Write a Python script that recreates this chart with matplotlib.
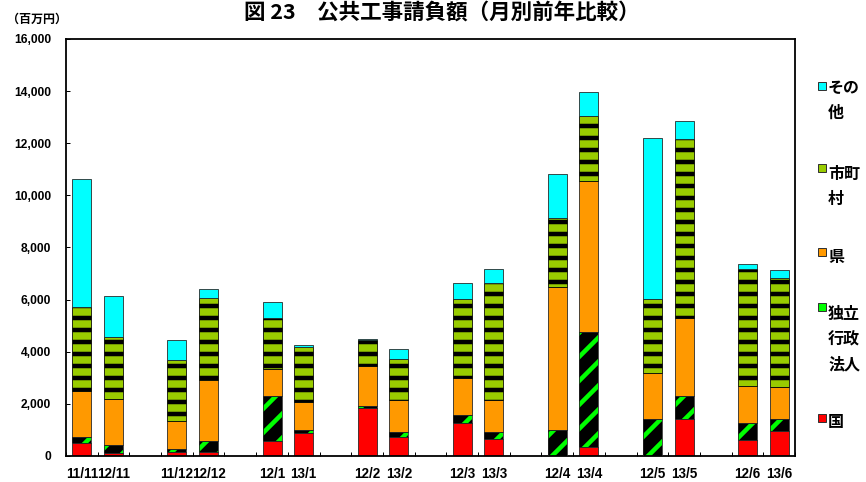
import numpy as np
import matplotlib
matplotlib.use("Agg")
import matplotlib.pyplot as plt
from matplotlib.patches import Rectangle
from matplotlib.ticker import FuncFormatter

# Monthly public-works contract amounts (million yen), previous year vs. current year
months = ['11/11', '12/11', '11/12', '12/12', '12/1', '13/1', '12/2', '13/2',
          '12/3', '13/3', '12/4', '13/4', '12/5', '13/5', '12/6', '13/6']
kuni = [510, 130, 165, 165, 565, 895, 1830, 715, 1255, 640, 0, 355, 0, 1420, 600, 960]
dokuritsu = [205, 305, 105, 420, 1750, 90, 90, 190, 320, 295, 1000, 4390, 1410, 880, 680, 450]
ken = [1780, 1740, 1085, 2330, 1035, 1075, 1535, 1255, 1430, 1215, 5500, 5815, 1765, 3005, 1420, 1250]
shichoson = [3235, 2380, 2315, 3145, 1955, 2110, 995, 1550, 3005, 4500, 2625, 2495, 2865, 6845, 4465, 4160]
sonota = [4885, 1585, 780, 345, 615, 75, 50, 395, 615, 525, 1690, 900, 6165, 700, 215, 320]

JP = ['Noto Sans CJK JP', 'DejaVu Sans']
NUM = ['Liberation Sans', 'DejaVu Sans']

plt.rcParams['hatch.linewidth'] = 4.5

DPI = 72
W, H = 866, 482
fig = plt.figure(figsize=(W / DPI, H / DPI), dpi=DPI)
ax = fig.add_axes([66 / W, 1 - 456 / H, (795 - 66) / W, (456 - 39) / H])

# each year-over-year pair sits side by side, pairs separated by one empty slot
x = np.array([3 * (i // 2) + (i % 2) for i in range(len(months))])
width = 0.6
edge = '#222222'
elw = 0.8

bottom = np.zeros(len(months))

# 国
ax.bar(x, kuni, width, bottom=bottom, color='#FF0000', edgecolor=edge, linewidth=elw, zorder=2)
bottom += np.array(kuni)

# 独立行政法人: green diagonal stripes on black
ax.bar(x, dokuritsu, width, bottom=bottom, color='black', edgecolor='#00FF00',
       hatch='/', linewidth=0, zorder=2)
ax.bar(x, dokuritsu, width, bottom=bottom, fill=False, edgecolor=edge, linewidth=elw, zorder=3)
bottom += np.array(dokuritsu)

# 県
ax.bar(x, ken, width, bottom=bottom, color='#FF9900', edgecolor=edge, linewidth=elw, zorder=2)
bottom += np.array(ken)

# 市町村: olive with black horizontal bands
ax.bar(x, shichoson, width, bottom=bottom, color='#99CC00', edgecolor='black',
       hatch='-', linewidth=elw, zorder=2)
bottom += np.array(shichoson)

# その他
ax.bar(x, sonota, width, bottom=bottom, color='#00FFFF', edgecolor=edge, linewidth=elw, zorder=2)

# axes
ax.set_xlim(-0.5, 22.5)
ax.set_ylim(0, 16000)
ax.set_xticks(x)
ax.set_xticklabels(months, fontfamily=NUM, fontweight='bold', fontsize=13.5)
ax.set_xticks(np.arange(-0.5, 23, 1), minor=True)
ax.tick_params(axis='x', which='major', length=0, pad=11.5)
ax.tick_params(axis='x', which='minor', direction='in', length=4, width=1)

ax.set_yticks(np.arange(0, 16001, 2000))
ax.yaxis.set_major_formatter(FuncFormatter(lambda v, p: f'{int(v):,}'))
ax.tick_params(axis='y', direction='in', length=4, width=1, pad=15)
for lab in ax.get_yticklabels():
    lab.set_fontfamily(NUM)
    lab.set_fontweight('bold')
    lab.set_fontsize(12)

for s in ax.spines.values():
    s.set_linewidth(1.8)
    s.set_color('black')

# title and unit
fig.text(442 / W, 1 - 1.5 / H, '図 23\u3000公共工事請負額（月別前年比較）',
         ha='center', va='top', fontfamily=JP, fontweight='bold', fontsize=21.5)
fig.text(37 / W, 1 - 19 / H, '（百万円）', ha='center', va='center',
         fontfamily=JP, fontweight='bold', fontsize=12)

# legend on the right
legend_items = [
    ('その\n他', '#00FFFF', 86, 88),
    ('市町\n村', '#99CC00', 168, 174),
    ('県', '#FF9900', 252, 257),
    ('独立\n行政\n法人', '#00FF00', 307, 314),
    ('国', '#FF0000', 418, 422),
]
for label, fc, my, ty in legend_items:
    sq = Rectangle((818 / W, 1 - (my + 4) / H), 8 / W, 8 / H, transform=fig.transFigure,
                   facecolor=fc, edgecolor='#333333', linewidth=1, figure=fig)
    fig.patches.append(sq)
    for k, line in enumerate(label.split('\n')):
        fig.text(828 / W, 1 - (ty + 25 * k) / H, line, ha='left', va='center',
                 fontfamily=JP, fontweight='bold', fontsize=16)

fig.savefig('out.png', dpi=DPI)
